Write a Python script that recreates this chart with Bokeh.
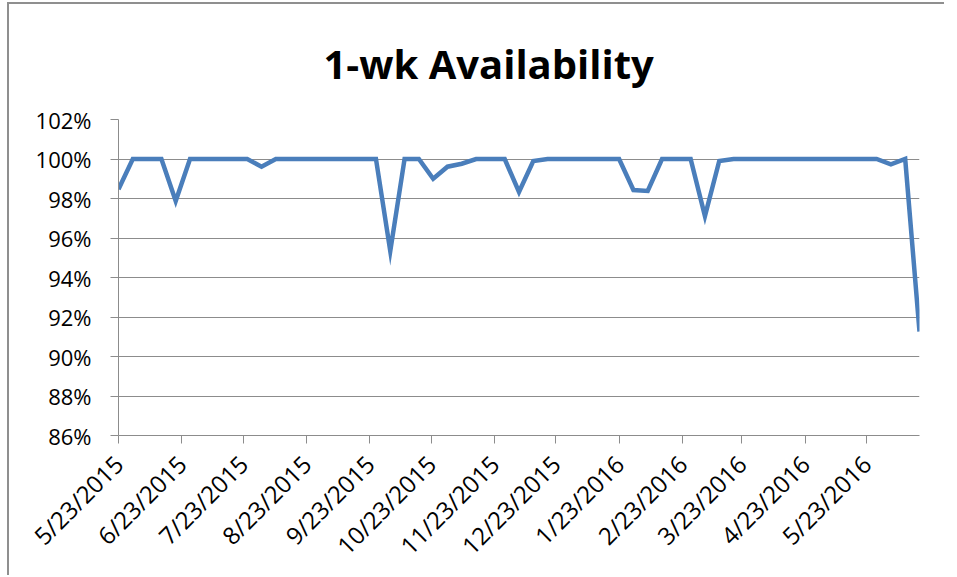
from datetime import datetime
from bokeh.plotting import figure
from bokeh.layouts import column
from bokeh.models import FixedTicker, Range1d, PrintfTickFormatter
from bokeh.embed import file_html
from bokeh.resources import INLINE

# Weekly dates
dates = [
    "2015-05-23", "2015-05-30", "2015-06-06", "2015-06-13", "2015-06-20", "2015-06-27",
    "2015-07-04", "2015-07-11", "2015-07-18", "2015-07-25", "2015-08-01", "2015-08-08",
    "2015-08-15", "2015-08-22", "2015-08-29", "2015-09-05", "2015-09-12", "2015-09-19",
    "2015-09-26", "2015-10-03", "2015-10-10", "2015-10-17", "2015-10-24", "2015-10-31",
    "2015-11-07", "2015-11-14", "2015-11-21", "2015-11-28", "2015-12-05", "2015-12-12",
    "2015-12-19", "2015-12-26", "2016-01-02", "2016-01-09", "2016-01-16", "2016-01-23",
    "2016-01-30", "2016-02-06", "2016-02-13", "2016-02-20", "2016-02-27", "2016-03-05",
    "2016-03-12", "2016-03-19", "2016-03-26", "2016-04-02", "2016-04-09", "2016-04-16",
    "2016-04-23", "2016-04-30", "2016-05-07", "2016-05-14", "2016-05-21", "2016-05-28",
    "2016-06-04", "2016-06-11", "2016-06-18",
]

# Availability in percent
availability = [
    98.47, 100.0, 100.0, 100.0, 97.87, 100.0,
    100.0, 100.0, 100.0, 100.0, 99.61, 100.0,
    100.0, 100.0, 100.0, 100.0, 100.0, 100.0,
    100.0, 95.34, 100.0, 100.0, 99.0, 99.61,
    99.76, 100.0, 100.0, 100.0, 98.33, 99.9,
    100.0, 100.0, 100.0, 100.0, 100.0, 100.0,
    98.43, 98.38, 100.0, 100.0, 100.0, 97.11,
    99.9, 100.0, 100.0, 100.0, 100.0, 100.0,
    100.0, 100.0, 100.0, 100.0, 100.0, 100.0,
    99.73, 100.0, 91.26,
]

title_text = "1-wk Availability"

tick_dates = [
    "2015-05-23", "2015-06-23", "2015-07-23", "2015-08-23", "2015-09-23",
    "2015-10-23", "2015-11-23", "2015-12-23", "2016-01-23", "2016-02-23",
    "2016-03-23", "2016-04-23", "2016-05-23",
]
tick_labels = [
    "5/23/2015", "6/23/2015", "7/23/2015", "8/23/2015", "9/23/2015",
    "10/23/2015", "11/23/2015", "12/23/2015", "1/23/2016", "2/23/2016",
    "3/23/2016", "4/23/2016", "5/23/2016",
]
y_ticks = [86, 88, 90, 92, 94, 96, 98, 100, 102]


def to_ms(s):
    d = datetime.strptime(s, "%Y-%m-%d")
    return (d - datetime(1970, 1, 1)).total_seconds() * 1000.0


xs = [datetime.strptime(s, "%Y-%m-%d") for s in dates]
tick_ms = [to_ms(s) for s in tick_dates]

p = figure(
    width=935, height=571,
    x_axis_type="datetime",
    output_backend="svg",
    tools="",
    toolbar_location=None,
    min_border_left=109, min_border_right=25,
    min_border_top=115, min_border_bottom=139,
    title=title_text,
)
p.toolbar.logo = None

p.title.align = "left"
p.title.text_font = "Open Sans"
p.title.text_font_style = "bold"
p.title.text_font_size = "40px"
p.title.text_color = "#000000"
p.title.standoff = 57
p.title.offset = 205

p.x_range = Range1d(to_ms(dates[0]), to_ms(dates[-1]))
p.y_range = Range1d(86, 102)

p.line(xs, availability, line_color="#4A7EBB", line_width=4.5, line_join="miter")

p.outline_line_color = None
p.xgrid.grid_line_color = None
p.ygrid.grid_line_color = "#8c8c8c"
p.ygrid.grid_line_width = 1

# x axis
p.xaxis.ticker = FixedTicker(ticks=tick_ms)
p.xaxis.major_label_overrides = {t: l for t, l in zip(tick_ms, tick_labels)}
p.xaxis.major_label_orientation = 0.785398
p.xaxis.major_label_text_font = "Open Sans"
p.xaxis.major_label_text_font_size = "24px"
p.xaxis.major_label_text_color = "#000000"
p.xaxis.axis_line_color = "#8c8c8c"
p.xaxis.major_tick_line_color = "#8c8c8c"
p.xaxis.major_tick_out = 8
p.xaxis.major_tick_in = 0
p.xaxis.minor_tick_line_color = None
p.xaxis.major_label_standoff = 16

# y axis
p.yaxis.ticker = FixedTicker(ticks=y_ticks)
p.yaxis.formatter = PrintfTickFormatter(format="%d%%")
p.yaxis.major_label_text_font = "Open Sans"
p.yaxis.major_label_text_font_size = "22px"
p.yaxis.major_label_text_color = "#000000"
p.yaxis.axis_line_color = "#8c8c8c"
p.yaxis.major_tick_line_color = "#8c8c8c"
p.yaxis.major_tick_out = 8
p.yaxis.major_tick_in = 0
p.yaxis.minor_tick_line_color = None
p.yaxis.major_label_standoff = 19

layout = column(p, styles={"border-top": "2px solid #8f8f8f",
                           "border-left": "2px solid #8f8f8f",
                           "margin-left": "7px", "margin-top": "2px"})

open("out.html", "w").write(file_html(layout, INLINE))
